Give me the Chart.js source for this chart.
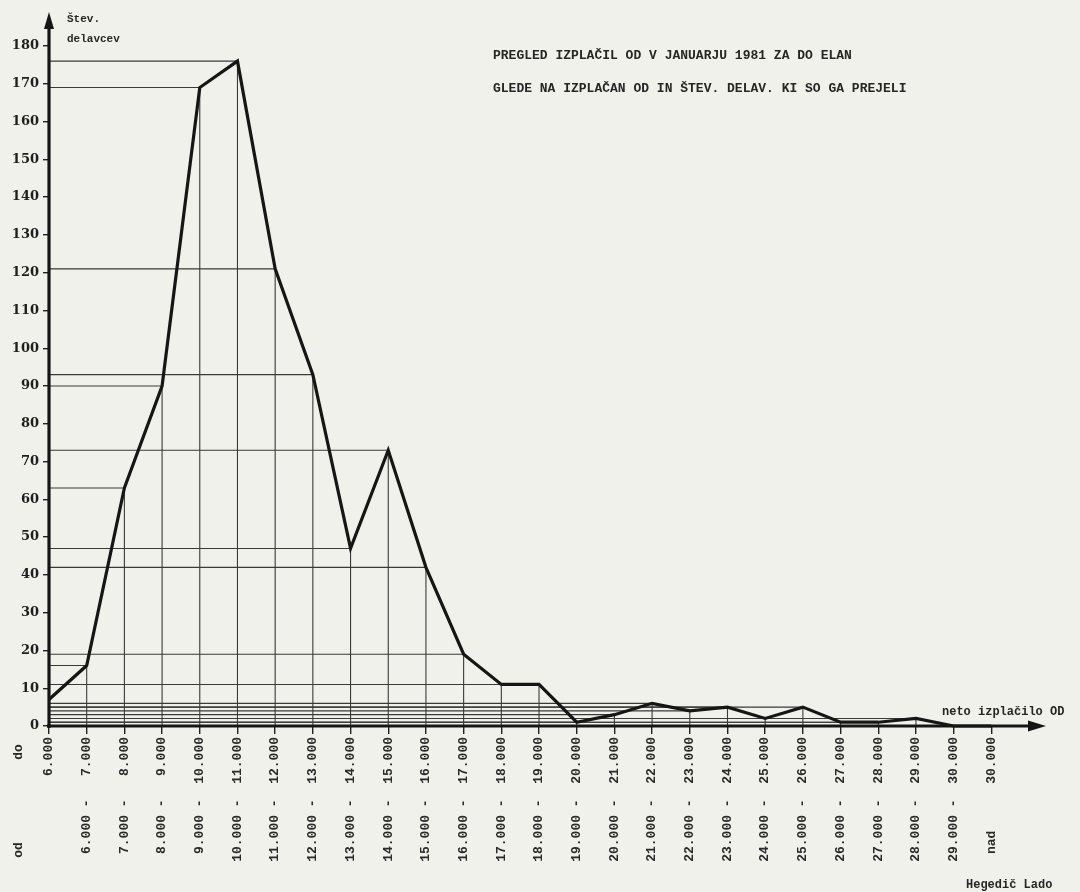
<!DOCTYPE html>
<html lang="sl">
<head>
<meta charset="utf-8">
<title>Pregled izplačil OD – januar 1981</title>
<script src="https://cdn.jsdelivr.net/npm/chart.js@4.4.1/dist/chart.umd.min.js"></script>
<style>
  html, body { margin: 0; padding: 0; background: #f1f1ec; }
  canvas { display: block; }
</style>
</head>
<body>
<canvas id="c" width="1080" height="892"></canvas>
<script>
// Razredi neto izplačila OD (din): spodnja in zgornja meja razreda
const rangeLow = ['', '6.000', '7.000', '8.000', '9.000', '10.000', '11.000', '12.000',
  '13.000', '14.000', '15.000', '16.000', '17.000', '18.000', '19.000', '20.000',
  '21.000', '22.000', '23.000', '24.000', '25.000', '26.000', '27.000', '28.000',
  '29.000', 'nad'];
const rangeHigh = ['6.000', '7.000', '8.000', '9.000', '10.000', '11.000', '12.000',
  '13.000', '14.000', '15.000', '16.000', '17.000', '18.000', '19.000', '20.000',
  '21.000', '22.000', '23.000', '24.000', '25.000', '26.000', '27.000', '28.000',
  '29.000', '30.000', '30.000'];

// Število delavcev v posameznem razredu
const workers = [7, 16, 63, 90, 169, 176, 121, 93, 47, 73, 42, 19, 11, 11,
  1, 3, 6, 4, 5, 2, 5, 1, 1, 2, 0, 0];

// Oznake na navpični osi
const yTicks = [0, 10, 20, 30, 40, 50, 60, 70, 80, 90, 100, 110, 120, 130, 140, 150, 160, 170, 180];

const titleLines = [
  'PREGLED IZPLAČIL OD V JANUARJU 1981 ZA DO ELAN',
  'GLEDE NA IZPLAČAN OD IN ŠTEV. DELAV. KI SO GA PREJELI'
];

// Oznaka razreda v slogu pisalnega stroja: spodnja meja, pomišljaj, zgornja meja
const tickLabels = rangeLow.map((lo, i) => {
  const hi = rangeHigh[i].padStart(6);
  if (lo === '') return hi;
  if (lo === 'nad') return lo + '      ' + hi;
  return lo.padStart(6) + ' -  ' + hi;
});

const MONO = '"Liberation Mono", "DejaVu Sans Mono", monospace';
const INK = '#161616';

// ozadje papirja
const paper = {
  id: 'paper',
  beforeDraw(chart) {
    const { ctx, width, height } = chart;
    ctx.save();
    ctx.fillStyle = '#f1f1ec';
    ctx.fillRect(0, 0, width, height);
    ctx.restore();
  }
};

// pomožne črte od vsake točke do obeh osi
const dropLines = {
  id: 'dropLines',
  beforeDatasetsDraw(chart) {
    const { ctx, chartArea, scales: { x, y } } = chart;
    const y0 = y.getPixelForValue(0);
    ctx.save();
    ctx.strokeStyle = '#3a3a3a';
    ctx.lineWidth = 1.1;
    workers.forEach((v, i) => {
      const px = x.getPixelForValue(i);
      const py = y.getPixelForValue(v);
      ctx.beginPath();
      ctx.moveTo(chartArea.left, py);
      ctx.lineTo(px, py);
      ctx.moveTo(px, py);
      ctx.lineTo(px, y0);
      ctx.stroke();
    });
    ctx.restore();
  }
};

// debeli osi s puščicama
const arrowAxes = {
  id: 'arrowAxes',
  afterDatasetsDraw(chart) {
    const { ctx, chartArea, scales: { y } } = chart;
    const y0 = y.getPixelForValue(0);
    const left = chartArea.left;
    ctx.save();
    ctx.strokeStyle = INK;
    ctx.fillStyle = INK;
    ctx.lineWidth = 3.2;
    ctx.beginPath();
    ctx.moveTo(left, y0 + 2);
    ctx.lineTo(left, chartArea.top + 12);
    ctx.moveTo(left - 2, y0);
    ctx.lineTo(chartArea.right - 14, y0);
    ctx.stroke();
    // puščica navpične osi
    ctx.beginPath();
    ctx.moveTo(left, chartArea.top);
    ctx.lineTo(left - 5, chartArea.top + 17);
    ctx.lineTo(left + 5, chartArea.top + 17);
    ctx.closePath();
    ctx.fill();
    // puščica vodoravne osi
    ctx.beginPath();
    ctx.moveTo(chartArea.right, y0);
    ctx.lineTo(chartArea.right - 18, y0 - 5.5);
    ctx.lineTo(chartArea.right - 18, y0 + 5.5);
    ctx.closePath();
    ctx.fill();
    ctx.restore();
  }
};

// naslov, imena osi in podpis
const captions = {
  id: 'captions',
  afterDraw(chart) {
    const { ctx, scales: { y } } = chart;
    const y0 = y.getPixelForValue(0);
    ctx.save();
    ctx.fillStyle = '#262626';
    ctx.textBaseline = 'alphabetic';
    ctx.textAlign = 'left';

    ctx.font = 'bold 13px ' + MONO;
    ctx.fillText(titleLines[0], 493, 59);
    ctx.fillText(titleLines[1], 493, 92);

    ctx.font = 'bold 11px ' + MONO;
    ctx.fillText('Štev.', 67, 22);
    ctx.fillText('delavcev', 67, 42);

    ctx.font = 'bold 12px ' + MONO;
    ctx.fillText('neto izplačilo OD', 942, y0 - 11);
    ctx.fillText('Hegedič Lado', 966, 888);

    // "do" / "od" pred oznakami razredov
    ctx.font = 'bold 13px ' + MONO;
    ctx.textAlign = 'center';
    ctx.textBaseline = 'middle';
    [['do', 752], ['od', 850]].forEach(([t, ty]) => {
      ctx.save();
      ctx.translate(19, ty);
      ctx.rotate(-Math.PI / 2);
      ctx.fillText(t, 0, 0);
      ctx.restore();
    });
    ctx.restore();
  }
};

new Chart(document.getElementById('c'), {
  type: 'line',
  data: {
    datasets: [{
      data: workers.map((v, i) => ({ x: i, y: v })),
      borderColor: INK,
      borderWidth: 3.2,
      borderJoinStyle: 'miter',
      pointRadius: 0,
      tension: 0,
      fill: false,
      clip: false
    }]
  },
  options: {
    responsive: false,
    animation: false,
    devicePixelRatio: 1,
    layout: { padding: { top: 12, right: 34, left: 0, bottom: 0 } },
    plugins: { legend: { display: false }, tooltip: { enabled: false }, title: { display: false } },
    scales: {
      x: {
        type: 'linear',
        min: 0,
        max: 26.45,
        border: { display: false },
        grid: { drawOnChartArea: false, drawTicks: true, tickLength: 8, color: '#222', lineWidth: 1.4 },
        afterBuildTicks: s => { s.ticks = workers.map((_, i) => ({ value: i })); },
        afterFit: s => { s.height = 166; },
        ticks: {
          autoSkip: false,
          minRotation: 90,
          maxRotation: 90,
          padding: 3,
          color: '#2a2a2a',
          font: { family: MONO, size: 13, weight: 'bold' },
          callback: v => tickLabels[v]
        }
      },
      y: {
        min: 0,
        max: 189,
        border: { display: false },
        grid: { drawOnChartArea: false, drawTicks: true, tickLength: 6, color: '#222', lineWidth: 1.4 },
        afterBuildTicks: s => { s.ticks = yTicks.map(v => ({ value: v })); },
        afterFit: s => { s.width = 49; },
        ticks: {
          padding: 4,
          color: '#1e1e1e',
          font: { family: '"DejaVu Serif", serif', size: 13, weight: 'bold' }
        }
      }
    }
  },
  plugins: [paper, dropLines, arrowAxes, captions]
});
</script>
</body>
</html>
